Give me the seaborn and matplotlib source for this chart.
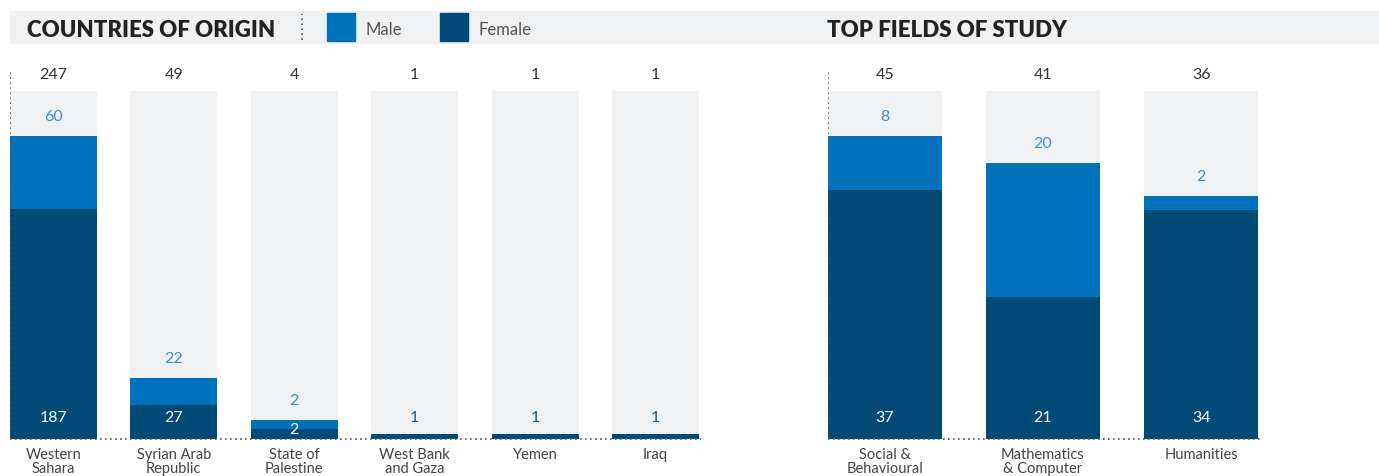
import numpy as np
import matplotlib
matplotlib.use("Agg")
import matplotlib.pyplot as plt
from matplotlib.patches import Rectangle
from matplotlib.lines import Line2D
import seaborn as sns

# --- data ---
countries = ["Western\nSahara", "Syrian Arab\nRepublic", "State of\nPalestine",
             "West Bank\nand Gaza", "Yemen", "Iraq"]
country_male = [60, 22, 2, 0, 0, 0]
country_female = [187, 27, 2, 1, 1, 1]
country_total = [247, 49, 4, 1, 1, 1]

fields = ["Social &\nBehavioural", "Mathematics\n& Computer", "Humanities"]
field_male = [8, 20, 2]
field_female = [37, 21, 34]
field_total = [45, 41, 36]

MALE = "#0072bc"
FEMALE = "#004a78"
BG = "#f0f1f3"
MALE_TXT = "#3b8fd6"
W, H = 1379, 477

sns.set_style("white")
plt.rcParams['font.family'] = ['Lato', 'DejaVu Sans']

fig = plt.figure(figsize=(W / 100, H / 100), dpi=100)


def px_axes(x0, x1, y_top, y_bot):
    return fig.add_axes([x0 / W, (H - y_bot) / H, (x1 - x0) / W, (y_bot - y_top) / H])


def draw_panel(ax, cats, male, female, total):
    male = np.array(male, float)
    female = np.array(female, float)
    ymax = max(total) * 1.2225
    # tiny values get a minimum visible height, as in the original
    small = max(total) * 0.015
    f_disp = np.where((female > 0) & (female < small), female * 3.7, female)
    m_disp = np.where((male > 0) & (male < small), male * 3.7, male)
    stack = f_disp + m_disp

    x = np.arange(len(cats))
    ax.bar(x, [ymax * 0.938] * len(cats), width=0.72, color=BG, lw=0, zorder=0)
    sns.barplot(x=x, y=stack, color=MALE, width=0.72, saturation=1, ax=ax,
                native_scale=True, linewidth=0, edgecolor="none", zorder=1)
    sns.barplot(x=x, y=f_disp, color=FEMALE, width=0.72, saturation=1, ax=ax,
                native_scale=True, linewidth=0, edgecolor="none", zorder=2)
    ax.set_xlim(-0.36, len(cats) - 0.64)
    ax.set_ylim(0, ymax)

    for i in range(len(cats)):
        ax.text(i, 0.984, f"{total[i]}", transform=ax.get_xaxis_transform(),
                ha="center", va="center", fontsize=11.5, color="#333333")
        if male[i] > 0:
            ax.annotate(f"{int(male[i])}", (i, stack[i]), xytext=(0, 20),
                        textcoords="offset pixels", ha="center", va="center",
                        fontsize=11.5, color=MALE_TXT)
        fpx = f_disp[i] / ymax * 370
        if fpx > 25:
            ax.annotate(f"{int(female[i])}", (i, 0), xytext=(0, 21),
                        textcoords="offset pixels", ha="center", va="center",
                        fontsize=11.5, color="white")
        elif male[i] > 0:
            ax.annotate(f"{int(female[i])}", (i, 0), xytext=(0, 9),
                        textcoords="offset pixels", ha="center", va="center",
                        fontsize=11.5, color="white", zorder=5)
        else:
            ax.annotate(f"{int(female[i])}", (i, 0), xytext=(0, 21),
                        textcoords="offset pixels", ha="center", va="center",
                        fontsize=11.5, color="#1f5a8a")

    for s in ax.spines.values():
        s.set_visible(False)
    ax.axvline(-0.36, color="#555555", lw=1.2, ls=(0, (1, 2)), zorder=3)
    ax.plot([-0.36, len(cats) - 0.62], [0, 0], color="#555555", lw=1.2,
            ls=(0, (1, 2)), clip_on=False, zorder=3)
    ax.set_yticks([])
    ax.set_xticks(x)
    ax.set_xticklabels(cats, fontsize=10.5, color="#444444")
    for t in ax.get_xticklabels():
        t.set_linespacing(0.98)
    ax.tick_params(axis="x", length=0, pad=6)
    ax.set_xlabel("")
    ax.set_ylabel("")


ax1 = px_axes(10, 699, 69.5, 439.5)
draw_panel(ax1, countries, country_male, country_female, country_total)
ax2 = px_axes(828, 1258, 69.5, 439.5)
draw_panel(ax2, fields, field_male, field_female, field_total)

# --- header band ---
fig.patches.append(Rectangle((10 / W, (H - 44) / H), (W - 10) / W, 32 / H,
                             transform=fig.transFigure, color=BG, zorder=0))
fig.text(27 / W, (H - 30.5) / H, "COUNTRIES OF ORIGIN", fontsize=16, fontweight="heavy",
         color="#222222", ha="left", va="center")
fig.text(827 / W, (H - 30.5) / H, "TOP FIELDS OF STUDY", fontsize=16, fontweight="heavy",
         color="#222222", ha="left", va="center")
fig.lines.append(Line2D([302 / W, 302 / W], [(H - 41) / H, (H - 15) / H],
                        transform=fig.transFigure, color="#555555", lw=1.2,
                        ls=(0, (1, 2))))
for x0, col, lab in [(327, MALE, "Male"), (440, FEMALE, "Female")]:
    fig.patches.append(Rectangle((x0 / W, (H - 42) / H), 28 / W, 28 / H,
                                 transform=fig.transFigure, color=col, zorder=1))
    fig.text((x0 + 38) / W, (H - 30) / H, lab, fontsize=12, color="#555555",
             ha="left", va="center")

fig.savefig("out.png", dpi=100)
